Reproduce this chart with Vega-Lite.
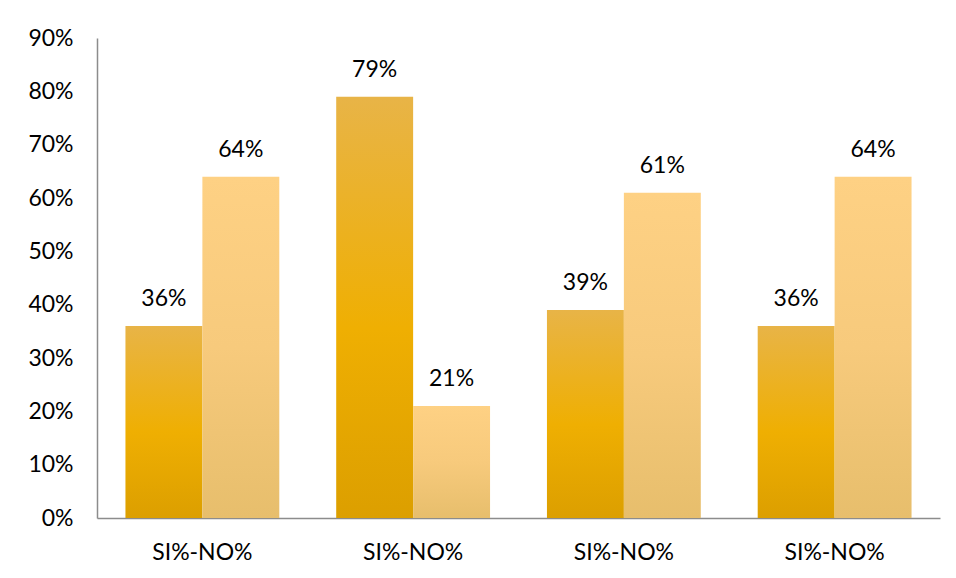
{
  "$schema": "https://vega.github.io/schema/vega-lite/v6.json",
  "width": 843,
  "height": 480,
  "autosize": {"type": "none"},
  "padding": {"left": 97, "top": 38, "right": 16, "bottom": 60},
  "background": "white",
  "config": {
    "view": {"stroke": null},
    "font": "Lato",
    "axis": {"labelFont": "Lato", "labelFontSize": 23, "labelColor": "#000000", "domainColor": "#8c8c8c", "domainWidth": 1.5, "ticks": false, "grid": false, "title": null}
  },
  "data": {
    "values": [
      {"g": 1, "s": "SI", "v": 0.36},
      {"g": 1, "s": "NO", "v": 0.64},
      {"g": 2, "s": "SI", "v": 0.79},
      {"g": 2, "s": "NO", "v": 0.21},
      {"g": 3, "s": "SI", "v": 0.39},
      {"g": 3, "s": "NO", "v": 0.61},
      {"g": 4, "s": "SI", "v": 0.36},
      {"g": 4, "s": "NO", "v": 0.64}
    ]
  },
  "encoding": {
    "x": {
      "field": "g", "type": "nominal",
      "scale": {"paddingInner": 0.27, "paddingOuter": 0.135},
      "axis": {"labelExpr": "'SI%-NO%'", "labelAngle": 0, "labelPadding": 23}
    },
    "xOffset": {"field": "s", "type": "nominal", "sort": ["SI", "NO"], "scale": {"paddingInner": 0, "paddingOuter": 0}},
    "y": {
      "field": "v", "type": "quantitative",
      "scale": {"domain": [0, 0.9], "nice": false},
      "axis": {"values": [0, 0.1, 0.2, 0.3, 0.4, 0.5, 0.6, 0.7, 0.8, 0.9], "format": ".0%", "labelPadding": 24}
    }
  },
  "layer": [
    {
      "transform": [{"filter": "datum.s == 'SI'"}],
      "mark": {
        "type": "bar",
        "color": {"gradient": "linear", "x1": 0, "y1": 0, "x2": 0, "y2": 1,
          "stops": [{"offset": 0, "color": "#e8b447"}, {"offset": 0.55, "color": "#efaf02"}, {"offset": 1, "color": "#dc9f00"}]}
      }
    },
    {
      "transform": [{"filter": "datum.s == 'NO'"}],
      "mark": {
        "type": "bar",
        "color": {"gradient": "linear", "x1": 0, "y1": 0, "x2": 0, "y2": 1,
          "stops": [{"offset": 0, "color": "#fed184"}, {"offset": 0.5, "color": "#f7ca7c"}, {"offset": 1, "color": "#e7be6c"}]}
      }
    },
    {
      "mark": {"type": "text", "baseline": "alphabetic", "dy": -20, "fontSize": 23, "font": "Lato", "color": "#000000"},
      "encoding": {"text": {"field": "v", "type": "quantitative", "format": ".0%"}}
    }
  ]
}
